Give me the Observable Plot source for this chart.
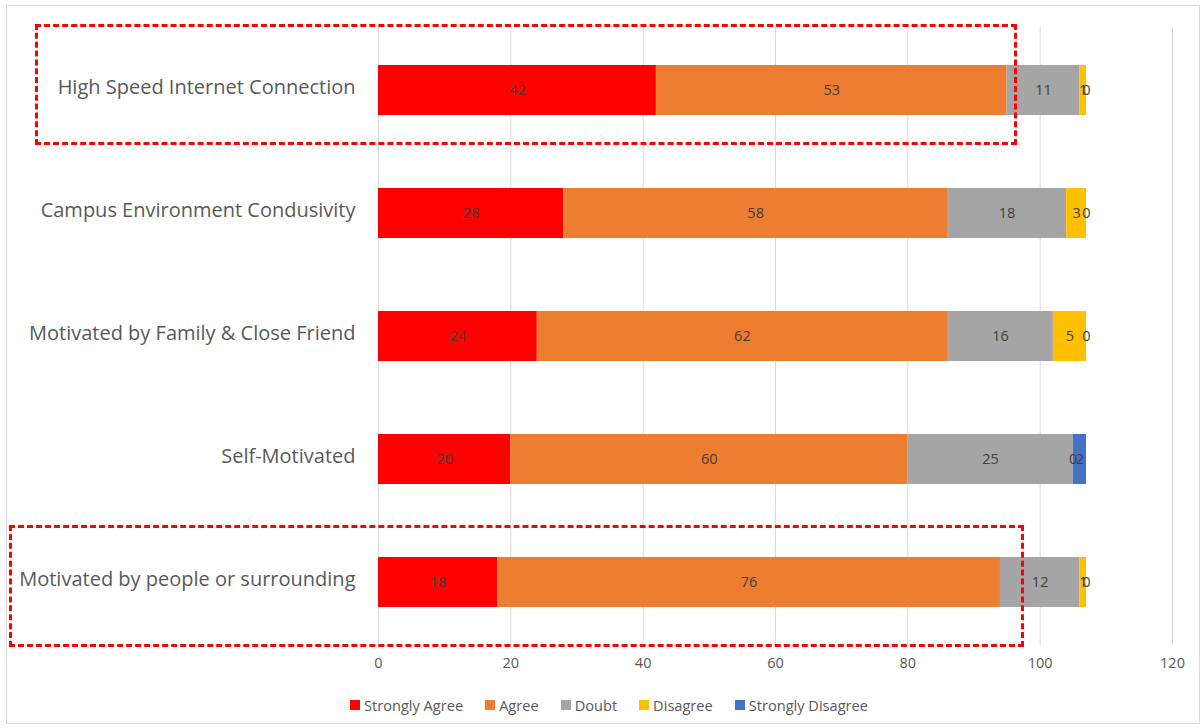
<!DOCTYPE html>
<html>
<head>
<meta charset="utf-8">
<script src="https://cdn.jsdelivr.net/npm/d3@7"></script>
<script src="https://cdn.jsdelivr.net/npm/@observablehq/plot@0.6"></script>
<style>
  html, body { margin: 0; padding: 0; background: #fff; }
  #wrap { position: relative; width: 1203px; height: 728px; overflow: hidden; font-family: "Open Sans", sans-serif; }
  #frame { position: absolute; left: 6px; top: 5px; width: 1194px; height: 719px; border: 1px solid #d9d9d9; box-sizing: border-box; pointer-events: none; }
  #chart { position: absolute; left: 0; top: 0; }
  #legend { position: absolute; left: 0; top: 694px; width: 1218px; display: flex; justify-content: center; align-items: center; gap: 22px; font-size: 14.6px; color: #595959; line-height: 22px; }
  #legend .item { display: flex; align-items: center; gap: 4px; white-space: nowrap; }
  #legend .sw { width: 10px; height: 10px; display: inline-block; }
  .box { position: absolute; border: 3px dashed #ff0000; box-sizing: border-box; pointer-events: none; }
</style>
</head>
<body>
<div id="wrap">
  <div id="frame"></div>
  <div id="chart"></div>
  <div id="legend"></div>
  <div class="box" style="left:35px; top:24px; width:982px; height:121px;"></div>
  <div class="box" style="left:9px; top:525px; width:1015px; height:122px;"></div>
</div>
<script>
const categories = [
  "High Speed Internet Connection",
  "Campus Environment Condusivity",
  "Motivated by Family & Close Friend",
  "Self-Motivated",
  "Motivated by people or surrounding"
];
const responses = ["Strongly Agree", "Agree", "Doubt", "Disagree", "Strongly Disagree"];
const colors = ["#ff0000", "#ed7d31", "#a5a5a5", "#ffc000", "#4472c4"];
const stronglyAgree    = [42, 28, 24, 20, 18];
const agree            = [53, 58, 62, 60, 76];
const doubt            = [11, 18, 16, 25, 12];
const disagree         = [1, 3, 5, 0, 1];
const stronglyDisagree = [0, 0, 0, 2, 0];
const xTicks = [0, 20, 40, 60, 80, 100, 120];

const series = [stronglyAgree, agree, doubt, disagree, stronglyDisagree];
const data = [];
categories.forEach((c, i) => {
  responses.forEach((r, j) => {
    data.push({category: c, response: r, value: series[j][i]});
  });
});

const font = "'Open Sans', sans-serif";

const chart = Plot.plot({
  width: 1203,
  height: 690,
  marginLeft: 378,
  marginRight: 31,
  marginTop: 27,
  marginBottom: 45,
  style: {fontFamily: font, background: "transparent"},
  x: {domain: [0, 120], ticks: xTicks, label: null},
  y: {domain: categories, paddingInner: 0.595, paddingOuter: 0.2975, label: null},
  color: {domain: responses, range: colors},
  marks: [
    Plot.gridX(xTicks, {stroke: "#d9d9d9", strokeOpacity: 1, strokeWidth: 1}),
    Plot.barX(data, Plot.stackX({x: "value", y: "category", fill: "response", order: responses})),
    Plot.text(data, Plot.stackX({x: "value", y: "category", z: "response", order: responses, text: d => String(d.value), fill: "#404040", fontSize: 14.5})),
    Plot.axisX({ticks: xTicks, tickSize: 0, tickPadding: 12, fontSize: 14.5, color: "#595959", label: null}),
    Plot.axisY({tickSize: 0, tickPadding: 23, dy: -3, fontSize: 20, color: "#595959", label: null})
  ]
});
document.getElementById("chart").appendChild(chart);

const legendEl = document.getElementById("legend");
responses.forEach((r, i) => {
  const item = document.createElement("div");
  item.className = "item";
  const sw = document.createElement("span");
  sw.className = "sw";
  sw.style.background = colors[i];
  const label = document.createElement("span");
  label.textContent = r;
  item.appendChild(sw);
  item.appendChild(label);
  legendEl.appendChild(item);
});
</script>
</body>
</html>
